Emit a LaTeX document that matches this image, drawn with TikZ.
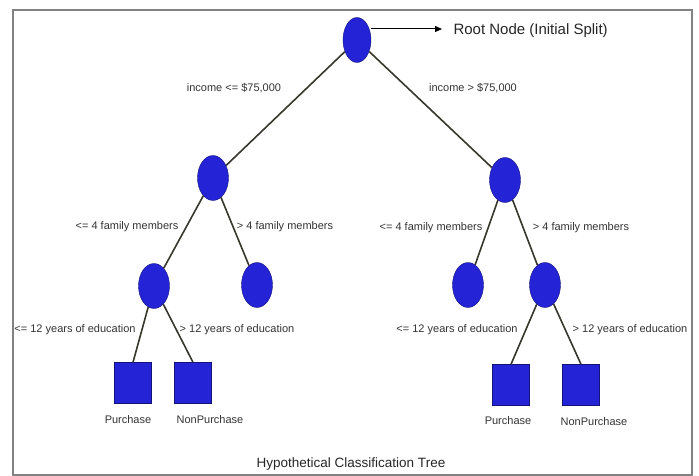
\documentclass[tikz,border=0pt]{standalone}
\usepackage{fontspec}
\setmainfont{Liberation Sans}
\usetikzlibrary{shapes.geometric,arrows.meta}
\definecolor{nodeblue}{RGB}{36,36,214}
\definecolor{nodeedge}{RGB}{20,20,120}
\definecolor{branchgray}{RGB}{55,55,45}
\definecolor{framegray}{RGB}{130,130,130}
\tikzset{
	split/.style={ellipse,draw=nodeedge,fill=nodeblue,minimum width=31pt,minimum height=45pt,inner sep=0pt},
	leaf/.style={rectangle,draw=nodeedge,fill=nodeblue,minimum width=37pt,minimum height=41pt,inner sep=0pt},
	branch/.style={branchgray,line width=1.6pt},
	cond/.style={font=\fontsize{11}{12}\selectfont,text=black!80,inner sep=1pt},
	outcome/.style={font=\fontsize{11}{12}\selectfont,text=black!80,inner sep=1pt}
}
\begin{document}
\begin{tikzpicture}[x=1pt,y=-1pt]
	
	\useasboundingbox (0,0) rectangle (699,476);
	\draw[framegray,line width=1.8pt] (13,10) rectangle (692,475);
	
	% splits
	\node[split,minimum width=28pt] (root) at (357,40) {};
	\node[split] (lowInc) at (213,178) {};
	\node[split] (highInc) at (505,180) {};
	\node[split] (lowSmall) at (154,286) {};
	\node[split] (lowLarge) at (257,285) {};
	\node[split] (highSmall) at (468,285) {};
	\node[split] (highLarge) at (545,285) {};
	
	% leaves
	\node[leaf] (buyA) at (133,383) {};
	\node[leaf] (nobuyA) at (193,383) {};
	\node[leaf] (buyB) at (511,385) {};
	\node[leaf] (nobuyB) at (581,385) {};
	
	\draw[branch] (root) -- (lowInc);
	\draw[branch] (root) -- (highInc);
	\draw[branch] (lowInc) -- (lowSmall);
	\draw[branch] (lowInc) -- (lowLarge);
	\draw[branch] (highInc) -- (highSmall);
	\draw[branch] (highInc) -- (highLarge);
	\draw[branch] (lowSmall) -- (buyA.north);
	\draw[branch] (lowSmall) -- (nobuyA.north);
	\draw[branch] (highLarge) -- (buyB.north);
	\draw[branch] (highLarge) -- (nobuyB.north);
	
	\coordinate (rootTip) at (442,29);
	\draw[black,line width=1pt,-{Triangle[length=7pt,width=6pt]}] (root.east |- rootTip) -- (rootTip);
	\node[anchor=west,font=\fontsize{15}{17}\selectfont,text=black!85] (rootLbl) at (450,31) {Root Node (Initial Split)};
	
	\node[cond] (lowIncLbl) at (234,88) {income <= \$75,000};
	\node[cond] (highIncLbl) at (473,88) {income > \$75,000};
	\node[cond] (lowSmallLbl) at (127,227) {<= 4 family members};
	\node[cond] (lowLargeLbl) at (285,227) {> 4 family members};
	\node[cond] (highSmallLbl) at (431,228) {<= 4 family members};
	\node[cond] (highLargeLbl) at (581,228) {> 4 family members};
	\node[cond] (buyALbl) at (75,330) {<= 12 years of education};
	\node[cond] (nobuyALbl) at (237,330) {> 12 years of education};
	\node[cond] (buyBLbl) at (457,330) {<= 12 years of education};
	\node[cond] (nobuyBLbl) at (630,330) {> 12 years of education};
	
	\node[outcome] (buyAName) at (128,420) {Purchase};
	\node[outcome] (nobuyAName) at (210,420) {NonPurchase};
	\node[outcome] (buyBName) at (508,421) {Purchase};
	\node[outcome] (nobuyBName) at (594,422) {NonPurchase};
	
	\node[font=\fontsize{13.5}{15}\selectfont,text=black!85] (title) at (351,464) {Hypothetical Classification Tree};
\end{tikzpicture}
\end{document}
